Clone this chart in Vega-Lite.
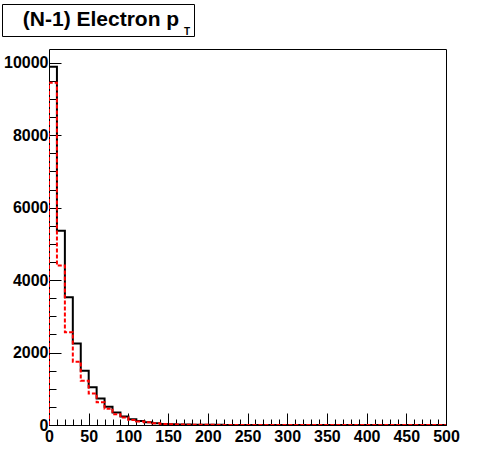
{
  "$schema": "https://vega.github.io/schema/vega-lite/v6.json",
  "padding": {"left": 1, "top": 3, "right": 5, "bottom": 5},
  "spacing": 10,
  "background": "white",
  "config": {
    "view": {"stroke": "#000", "strokeWidth": 1},
    "font": "Liberation Sans",
    "axis": {
      "grid": false,
      "domain": false,
      "title": null,
      "tickColor": "#000",
      "tickWidth": 1,
      "labelColor": "#000",
      "labelFont": "Liberation Sans",
      "labelFontWeight": "bold",
      "labelFontSize": 16,
      "labelFlush": false,
      "labelOverlap": false
    }
  },
  "datasets": {
    "hist": [
      {"x": 0, "v": 0, "s": "black"},
      {"x": 0, "v": 9890, "s": "black"},
      {"x": 10, "v": 5360, "s": "black"},
      {"x": 20, "v": 3530, "s": "black"},
      {"x": 30, "v": 2250, "s": "black"},
      {"x": 40, "v": 1500, "s": "black"},
      {"x": 50, "v": 1040, "s": "black"},
      {"x": 60, "v": 730, "s": "black"},
      {"x": 70, "v": 505, "s": "black"},
      {"x": 80, "v": 345, "s": "black"},
      {"x": 90, "v": 232, "s": "black"},
      {"x": 100, "v": 157, "s": "black"},
      {"x": 110, "v": 110, "s": "black"},
      {"x": 120, "v": 75, "s": "black"},
      {"x": 130, "v": 48, "s": "black"},
      {"x": 140, "v": 30, "s": "black"},
      {"x": 150, "v": 21, "s": "black"},
      {"x": 160, "v": 15, "s": "black"},
      {"x": 170, "v": 11, "s": "black"},
      {"x": 180, "v": 8, "s": "black"},
      {"x": 190, "v": 6, "s": "black"},
      {"x": 200, "v": 5, "s": "black"},
      {"x": 210, "v": 4, "s": "black"},
      {"x": 220, "v": 3, "s": "black"},
      {"x": 230, "v": 3, "s": "black"},
      {"x": 240, "v": 2, "s": "black"},
      {"x": 250, "v": 2, "s": "black"},
      {"x": 260, "v": 2, "s": "black"},
      {"x": 270, "v": 1, "s": "black"},
      {"x": 280, "v": 1, "s": "black"},
      {"x": 290, "v": 1, "s": "black"},
      {"x": 300, "v": 1, "s": "black"},
      {"x": 310, "v": 1, "s": "black"},
      {"x": 320, "v": 1, "s": "black"},
      {"x": 330, "v": 0, "s": "black"},
      {"x": 340, "v": 1, "s": "black"},
      {"x": 350, "v": 0, "s": "black"},
      {"x": 360, "v": 0, "s": "black"},
      {"x": 370, "v": 0, "s": "black"},
      {"x": 380, "v": 0, "s": "black"},
      {"x": 390, "v": 0, "s": "black"},
      {"x": 400, "v": 0, "s": "black"},
      {"x": 410, "v": 0, "s": "black"},
      {"x": 420, "v": 0, "s": "black"},
      {"x": 430, "v": 0, "s": "black"},
      {"x": 440, "v": 0, "s": "black"},
      {"x": 450, "v": 0, "s": "black"},
      {"x": 460, "v": 0, "s": "black"},
      {"x": 470, "v": 0, "s": "black"},
      {"x": 480, "v": 0, "s": "black"},
      {"x": 490, "v": 0, "s": "black"},
      {"x": 500, "v": 0, "s": "black"},
      {"x": 0, "v": 0, "s": "red"},
      {"x": 0, "v": 9450, "s": "red"},
      {"x": 10, "v": 4400, "s": "red"},
      {"x": 20, "v": 2560, "s": "red"},
      {"x": 30, "v": 1745, "s": "red"},
      {"x": 40, "v": 1225, "s": "red"},
      {"x": 50, "v": 870, "s": "red"},
      {"x": 60, "v": 625, "s": "red"},
      {"x": 70, "v": 448, "s": "red"},
      {"x": 80, "v": 300, "s": "red"},
      {"x": 90, "v": 205, "s": "red"},
      {"x": 100, "v": 140, "s": "red"},
      {"x": 110, "v": 100, "s": "red"},
      {"x": 120, "v": 73, "s": "red"},
      {"x": 130, "v": 48, "s": "red"},
      {"x": 140, "v": 30, "s": "red"},
      {"x": 150, "v": 20, "s": "red"},
      {"x": 160, "v": 14, "s": "red"},
      {"x": 170, "v": 10, "s": "red"},
      {"x": 180, "v": 7, "s": "red"},
      {"x": 190, "v": 5, "s": "red"},
      {"x": 200, "v": 4, "s": "red"},
      {"x": 210, "v": 3, "s": "red"},
      {"x": 220, "v": 3, "s": "red"},
      {"x": 230, "v": 2, "s": "red"},
      {"x": 240, "v": 2, "s": "red"},
      {"x": 250, "v": 1, "s": "red"},
      {"x": 260, "v": 1, "s": "red"},
      {"x": 270, "v": 1, "s": "red"},
      {"x": 280, "v": 1, "s": "red"},
      {"x": 290, "v": 1, "s": "red"},
      {"x": 300, "v": 0, "s": "red"},
      {"x": 310, "v": 1, "s": "red"},
      {"x": 320, "v": 0, "s": "red"},
      {"x": 330, "v": 0, "s": "red"},
      {"x": 340, "v": 0, "s": "red"},
      {"x": 350, "v": 0, "s": "red"},
      {"x": 360, "v": 0, "s": "red"},
      {"x": 370, "v": 0, "s": "red"},
      {"x": 380, "v": 0, "s": "red"},
      {"x": 390, "v": 0, "s": "red"},
      {"x": 400, "v": 0, "s": "red"},
      {"x": 410, "v": 0, "s": "red"},
      {"x": 420, "v": 0, "s": "red"},
      {"x": 430, "v": 0, "s": "red"},
      {"x": 440, "v": 0, "s": "red"},
      {"x": 450, "v": 0, "s": "red"},
      {"x": 460, "v": 0, "s": "red"},
      {"x": 470, "v": 0, "s": "red"},
      {"x": 480, "v": 0, "s": "red"},
      {"x": 490, "v": 0, "s": "red"},
      {"x": 500, "v": 0, "s": "red"}
    ]
  },
  "vconcat": [
    {
      "width": 192,
      "height": 32,
      "view": {"stroke": "#000", "strokeWidth": 1, "fill": "white"},
      "data": {"values": [{"t": "(N-1) Electron p", "k": "main"}, {"t": "T", "k": "sub"}]},
      "layer": [
        {
          "transform": [{"filter": "datum.k == 'main'"}],
          "mark": {"type": "text", "font": "Liberation Sans", "fontWeight": "bold", "fontSize": 21, "baseline": "alphabetic", "align": "center", "dx": 3, "dy": 6, "color": "#000"},
          "encoding": {"text": {"field": "t"}}
        },
        {
          "transform": [{"filter": "datum.k == 'sub'"}],
          "mark": {"type": "text", "font": "Liberation Sans", "fontWeight": "bold", "fontSize": 10, "baseline": "alphabetic", "align": "left", "dx": 86, "dy": 15, "color": "#000"},
          "encoding": {"text": {"field": "t"}}
        }
      ]
    },
    {
      "spacing": 0,
      "hconcat": [
        {
          "width": 1,
          "height": 1,
          "view": {"stroke": null, "fill": null},
          "data": {"values": []},
          "mark": {"type": "point", "opacity": 0},
          "encoding": {}
        },
        {
          "width": 397,
          "height": 376,
          "data": {"name": "hist"},
          "layer": [
            {
              "transform": [{"filter": "datum.s == 'black'"}],
              "mark": {"type": "line", "interpolate": "step-after", "color": "#000", "strokeWidth": 2, "clip": true},
              "encoding": {
                "x": {"field": "x", "type": "quantitative", "scale": {"domain": [0, 500], "nice": false, "zero": false},
                  "axis": {"orient": "bottom", "format": "d", "values": [0, 50, 100, 150, 200, 250, 300, 350, 400, 450, 500], "tickSize": -12, "labelPadding": 15}},
                "y": {"field": "v", "type": "quantitative", "scale": {"domain": [0, 10380], "nice": false},
                  "axis": {"orient": "left", "format": "d", "values": [0, 2000, 4000, 6000, 8000, 10000], "tickSize": -12, "labelPadding": 13}}
              }
            },
            {
              "transform": [{"filter": "datum.s == 'red'"}],
              "mark": {"type": "line", "interpolate": "step-after", "color": "#ff0000", "strokeWidth": 2, "strokeDash": [4, 2], "clip": true},
              "encoding": {
                "x": {"field": "x", "type": "quantitative",
                  "axis": {"orient": "bottom", "labels": false, "tickSize": -6, "values": [0, 10, 20, 30, 40, 50, 60, 70, 80, 90, 100, 110, 120, 130, 140, 150, 160, 170, 180, 190, 200, 210, 220, 230, 240, 250, 260, 270, 280, 290, 300, 310, 320, 330, 340, 350, 360, 370, 380, 390, 400, 410, 420, 430, 440, 450, 460, 470, 480, 490, 500]}},
                "y": {"field": "v", "type": "quantitative",
                  "axis": {"orient": "left", "labels": false, "tickSize": -7, "values": [0, 500, 1000, 1500, 2000, 2500, 3000, 3500, 4000, 4500, 5000, 5500, 6000, 6500, 7000, 7500, 8000, 8500, 9000, 9500, 10000]}}
              }
            }
          ],
          "resolve": {"axis": {"x": "independent", "y": "independent"}}
        }
      ]
    }
  ]
}
